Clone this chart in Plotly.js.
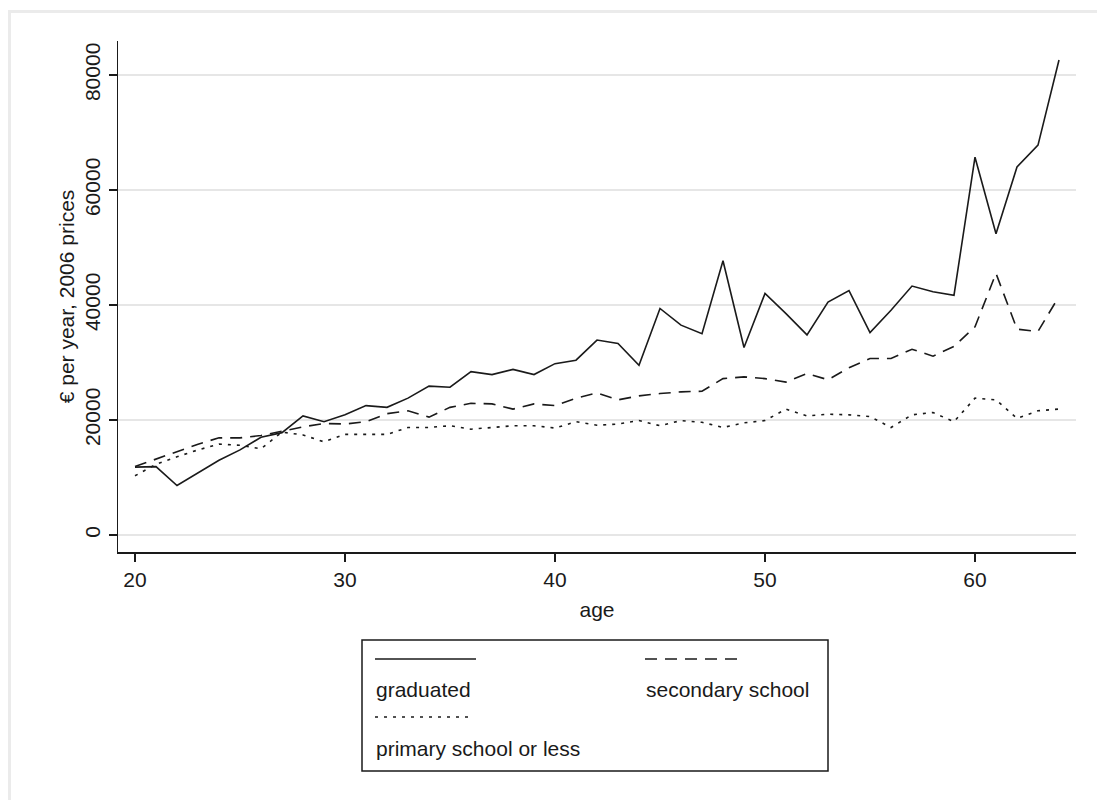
<!DOCTYPE html>
<html>
<head>
<meta charset="utf-8">
<script src="https://cdn.plot.ly/plotly-3.0.1.min.js"></script>
<style>
  html, body { margin: 0; padding: 0; background: #ffffff; }
  #chart { width: 1097px; height: 800px; }
</style>
</head>
<body>
<div id="chart"></div>
<script>
// ---- data ----
const ages = [20,21,22,23,24,25,26,27,28,29,30,31,32,33,34,35,36,37,38,39,40,41,42,43,44,45,46,47,48,49,50,51,52,53,54,55,56,57,58,59,60,61,62,63,64];

const graduated = [11800,11900,8600,10800,13000,14800,17000,17800,20700,19700,
  20900,22500,22200,23800,25900,25700,28400,27900,28800,27900,
  29800,30400,33900,33300,29500,39400,36500,35000,47700,32600,
  42000,38500,34800,40500,42500,35200,39100,43300,42300,41700,
  65700,52400,64000,67800,82600];

const secondary = [11900,13200,14500,15800,16900,16900,17300,18100,18800,19400,
  19300,19700,21100,21600,20500,22200,22900,22800,21900,22800,
  22500,23800,24700,23500,24200,24600,24900,25000,27200,27500,
  27200,26600,28100,27000,29100,30700,30700,32300,31100,32800,
  36200,45500,35800,35400,41500];

const primary = [10300,12300,13600,14800,15800,15600,15000,17900,17400,16200,
  17500,17500,17500,18700,18700,19000,18400,18700,19000,19000,
  18600,19700,19100,19300,19900,19000,19900,19600,18700,19500,
  19900,21900,20700,21000,20900,20600,18700,20900,21300,19700,
  23800,23500,20300,21600,21900];

const seriesNames = ["graduated", "secondary school", "primary school or less"];
const xTicks = [20, 30, 40, 50, 60];
const yTicks = [0, 20000, 40000, 60000, 80000];
const xTitle = "age";
const yTitle = "€ per year, 2006 prices";

// ---- styling / layout ----
const W = 1097, H = 800;
const L = 118, R = 1076, T = 41, B = 552;   // plot area in pixels
const FONT = "Liberation Sans, Arial, sans-serif";
const FS = 21;
const INK = "#1a1a1a";
const dashes = ["solid", "12px,8px", "3px,6px"];

function px2x(p) { return (p - L) / (R - L); }
function py2y(p) { return (B - p) / (B - T); }

const seriesData = [graduated, secondary, primary];
const traces = seriesData.map((vals, i) => ({
  type: "scatter",
  mode: "lines",
  x: ages,
  y: vals,
  name: seriesNames[i],
  line: { color: INK, width: 1.6, dash: dashes[i] },
  hoverinfo: "x+y+name"
}));

// manual Stata-style legend (key above label)
const legendBox = { x0: 362, x1: 828, y0: 640, y1: 771 };
const legendKeys = [
  { x0: 375, x1: 476, y: 659, dash: dashes[0] },
  { x0: 645, x1: 745, y: 659, dash: dashes[1] },
  { x0: 375, x1: 472, y: 717, dash: dashes[2] }
];
const legendLabels = [
  { x: 374, y: 690 },
  { x: 644, y: 690 },
  { x: 374, y: 748 }
];

const shapes = [
  // outer light frame
  { type: "rect", xref: "paper", yref: "paper", layer: "below",
    x0: px2x(9.5), x1: px2x(1300), y0: py2y(1000), y1: py2y(11.5),
    line: { color: "#ebebeb", width: 3 }, fillcolor: "rgba(0,0,0,0)" },
  // legend box
  { type: "rect", xref: "paper", yref: "paper",
    x0: px2x(legendBox.x0), x1: px2x(legendBox.x1),
    y0: py2y(legendBox.y1), y1: py2y(legendBox.y0),
    line: { color: INK, width: 1.5 }, fillcolor: "#ffffff" }
];
legendKeys.forEach(k => shapes.push({
  type: "line", xref: "paper", yref: "paper",
  x0: px2x(k.x0), x1: px2x(k.x1), y0: py2y(k.y), y1: py2y(k.y),
  line: { color: INK, width: 1.6, dash: k.dash }
}));

const annotations = legendLabels.map((p, i) => ({
  xref: "paper", yref: "paper",
  x: px2x(p.x), y: py2y(p.y),
  xanchor: "left", yanchor: "middle",
  text: seriesNames[i], showarrow: false,
  font: { family: FONT, size: FS, color: INK }
}));

const x0v = 20, pxPerYear = 21, x0px = 135;
const y0px = 535, pxPer1000 = 5.75;

const layout = {
  width: W, height: H,
  margin: { l: L, r: W - R, t: T, b: H - B, pad: 0 },
  paper_bgcolor: "rgba(0,0,0,0)",
  plot_bgcolor: "#ffffff",
  showlegend: false,
  font: { family: FONT, size: FS, color: INK },
  xaxis: {
    range: [x0v + (L - x0px) / pxPerYear, x0v + (R - x0px) / pxPerYear],
    tickvals: xTicks,
    ticktext: xTicks.map(String),
    ticks: "outside", ticklen: 8, tickwidth: 1.5, tickcolor: INK,
    showline: true, linecolor: INK, linewidth: 1.5,
    showgrid: false, zeroline: false,
    tickfont: { family: FONT, size: FS, color: INK },
    title: { text: xTitle, font: { family: FONT, size: FS, color: INK }, standoff: 12 }
  },
  yaxis: {
    range: [-(B - y0px) / pxPer1000 * 1000, (y0px - T) / pxPer1000 * 1000],
    tickvals: yTicks,
    ticktext: yTicks.map(String),
    tickangle: -90,
    ticks: "outside", ticklen: 8, tickwidth: 1.5, tickcolor: INK,
    showline: true, linecolor: INK, linewidth: 1.5,
    showgrid: true, gridcolor: "#e6e6e6", gridwidth: 1.5,
    zeroline: false,
    tickfont: { family: FONT, size: FS, color: INK },
    title: { text: yTitle, font: { family: FONT, size: FS, color: INK }, standoff: 0 }
  },
  shapes: shapes,
  annotations: annotations
};

Plotly.newPlot("chart", traces, layout, { displayModeBar: false, staticPlot: true });
</script>
</body>
</html>
